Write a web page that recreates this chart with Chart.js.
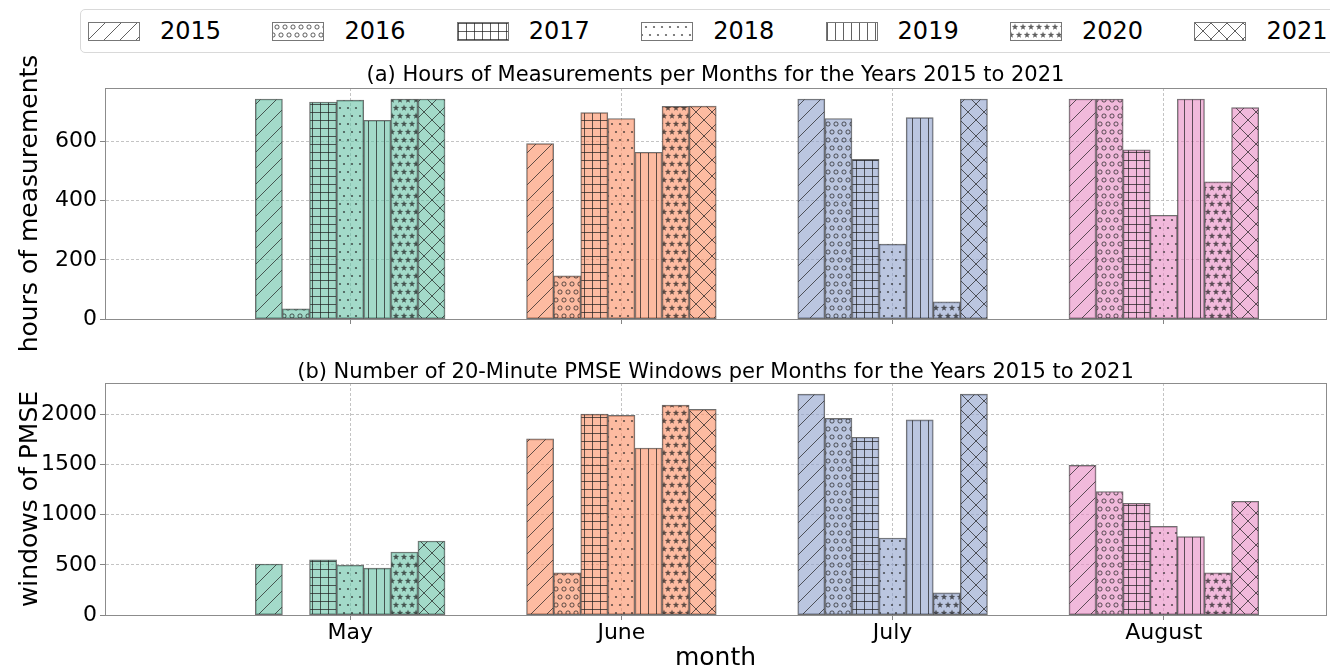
<!DOCTYPE html>
<html>
<head>
<meta charset="utf-8">
<script src="https://cdn.jsdelivr.net/npm/chart.js@4.4.1/dist/chart.umd.min.js"></script>
<style>
  body { margin: 0; background: #fff; width: 1330px; height: 668px; overflow: hidden; position: relative; font-family: "DejaVu Sans", sans-serif; }
  #legend { position: absolute; left: 80px; top: 9px; width: 1262px; height: 42px; border: 1px solid #d9d9d9; border-radius: 5px; }
  .item { position: absolute; top: 0; height: 42px; display: flex; align-items: center; }
  .item canvas { border: 1px solid #777; display: block; }
  .item span { font-size: 24px; margin-left: 20px; color: #000; }
  #c1 { position: absolute; left: 0; top: 40px; }
  #c2 { position: absolute; left: 0; top: 345px; }
</style>
</head>
<body>
<div id="legend"></div>
<canvas id="c1" width="1330" height="320"></canvas>
<canvas id="c2" width="1330" height="323"></canvas>
<script>
// categorias y series
const months = ['May', 'June', 'July', 'August'];
const years = ['2015', '2016', '2017', '2018', '2019', '2020', '2021'];
const hatches = ['/', 'o', '+', '.', '|', '*', 'x'];

// horas de medicion por mes (May, June, July, August)
const hours2015 = [744, 593, 744, 744];
const hours2016 = [34, 146, 678, 744];
const hours2017 = [734, 698, 540, 572];
const hours2018 = [740, 678, 253, 351];
const hours2019 = [672, 564, 681, 744];
const hours2020 = [744, 719, 58, 464];
const hours2021 = [744, 720, 744, 715];

// ventanas PMSE de 20 minutos por mes
const windows2015 = [508, 1753, 2200, 1490];
const windows2016 = [0, 420, 1957, 1230];
const windows2017 = [550, 2000, 1770, 1113];
const windows2018 = [497, 1987, 767, 883];
const windows2019 = [467, 1663, 1943, 780];
const windows2020 = [627, 2090, 220, 420];
const windows2021 = [737, 2047, 2200, 1133];

// marcas del eje y
const hoursTicks = [0, 200, 400, 600];
const windowsTicks = [0, 500, 1000, 1500, 2000];

const hoursByYear = [hours2015, hours2016, hours2017, hours2018, hours2019, hours2020, hours2021];
const windowsByYear = [windows2015, windows2016, windows2017, windows2018, windows2019, windows2020, windows2021];

const monthColors = ['rgba(102,194,165,0.6)', 'rgba(252,141,98,0.6)', 'rgba(141,160,203,0.6)', 'rgba(231,138,195,0.6)'];
const hatchColor = 'rgba(30,30,30,0.7)';
const edgeColor = 'rgba(50,50,50,0.7)';
const family = '"DejaVu Sans", sans-serif';

/* Función para crear el patrón de rayado */
function makeHatch(kind, fill) {
  const s = 16;
  const c = document.createElement('canvas');
  c.width = s; c.height = s;
  const g = c.getContext('2d');
  g.fillStyle = fill;
  g.fillRect(0, 0, s, s);
  g.strokeStyle = hatchColor;
  g.fillStyle = hatchColor;
  g.lineWidth = 1;
  const spots = [[4, 4], [12, 4], [0, 12], [8, 12], [16, 12]];
  if (kind === '/' || kind === 'x') {
    for (let k = -1; k <= 1; k++) {
      g.beginPath(); g.moveTo(k * s, s); g.lineTo(k * s + s, 0); g.stroke();
    }
  }
  if (kind === 'x') {
    for (let k = -1; k <= 1; k++) {
      g.beginPath(); g.moveTo(k * s, 0); g.lineTo(k * s + s, s); g.stroke();
    }
  }
  if (kind === '+' || kind === '|') {
    [0.5, 8.5].forEach(x => { g.beginPath(); g.moveTo(x, 0); g.lineTo(x, s); g.stroke(); });
  }
  if (kind === '+') {
    [0.5, 8.5].forEach(y => { g.beginPath(); g.moveTo(0, y); g.lineTo(s, y); g.stroke(); });
  }
  if (kind === 'o') {
    spots.forEach(([x, y]) => { g.beginPath(); g.arc(x, y, 2.1, 0, Math.PI * 2); g.stroke(); });
  }
  if (kind === '.') {
    spots.forEach(([x, y]) => { g.beginPath(); g.arc(x, y, 1.1, 0, Math.PI * 2); g.fill(); });
  }
  if (kind === '*') {
    spots.forEach(([x, y]) => {
      g.beginPath();
      for (let i = 0; i < 10; i++) {
        const r = i % 2 === 0 ? 3.4 : 1.4;
        const a = -Math.PI / 2 + i * Math.PI / 5;
        const px = x + r * Math.cos(a), py = y + r * Math.sin(a);
        if (i === 0) g.moveTo(px, py); else g.lineTo(px, py);
      }
      g.closePath(); g.fill();
    });
  }
  return { canvas: c, pattern: g.createPattern(c, 'repeat') };
}

/* Leyenda en HTML */
function buildLegend() {
  const box = document.getElementById('legend');
  years.forEach((yr, j) => {
    const item = document.createElement('div');
    item.className = 'item';
    item.style.left = (7 + j * 184.4) + 'px';
    const sw = document.createElement('canvas');
    sw.width = 50; sw.height = 17;
    const ctx = sw.getContext('2d');
    ctx.fillStyle = makeHatch(hatches[j], '#fff').pattern;
    ctx.fillRect(0, 0, 50, 17);
    const label = document.createElement('span');
    label.textContent = yr;
    item.appendChild(sw);
    item.appendChild(label);
    box.appendChild(item);
  });
}

// marco completo alrededor del área
const frame = {
  id: 'frame',
  afterDraw(chart) {
    const a = chart.chartArea, ctx = chart.ctx;
    ctx.save();
    ctx.strokeStyle = '#8c8c8c';
    ctx.lineWidth = 1;
    ctx.strokeRect(Math.round(a.left) + 0.5, Math.round(a.top) + 0.5, Math.round(a.right - a.left), Math.round(a.bottom - a.top));
    ctx.restore();
  }
};

/* Función para crear cada subgráfico */
function buildChart(id, byYear, yTicks, yMax, title, yLabel, isBottom) {
  const datasets = years.map((yr, j) => ({
    label: yr,
    data: byYear[j].map((v, i) => ({ x: i, y: v })),
    backgroundColor: months.map((m, i) => makeHatch(hatches[j], monthColors[i]).pattern),
    borderColor: edgeColor,
    borderWidth: 1,
    borderSkipped: false,
    barThickness: 27.1,
    grouped: true
  }));

  return new Chart(document.getElementById(id), {
    type: 'bar',
    data: { datasets: datasets },
    options: {
      responsive: false,
      animation: false,
      layout: { padding: { left: 0, right: 4, top: 0, bottom: 0 } },
      plugins: {
        legend: { display: false },
        tooltip: { enabled: false },
        title: {
          display: true,
          fullSize: false,
          text: title,
          color: '#000',
          font: { family: family, size: 21, weight: 'normal', lineHeight: 1 },
          padding: isBottom ? { top: 17, bottom: 0 } : { top: 25, bottom: 2 }
        }
      },
      scales: {
        x: {
          type: 'linear',
          min: -0.904,
          max: 3.598,
          offset: false,
          afterBuildTicks: s => { s.ticks = months.map((m, i) => ({ value: i })); },
          afterFit: s => { s.height = isBottom ? 53 : 41; },
          ticks: {
            display: isBottom,
            autoSkip: false,
            maxRotation: 0,
            padding: 0,
            color: '#000',
            font: { family: family, size: 22 },
            callback: v => months[v]
          },
          grid: { offset: false, color: '#b5b5b5', lineWidth: 0.8, tickLength: 5, tickColor: '#666', tickBorderDash: [] },
          border: { dash: [3, 2], color: '#8c8c8c' },
          title: {
            display: isBottom,
            text: 'month',
            color: '#000',
            font: { family: family, size: 25, lineHeight: 0.74 },
            padding: { top: 0, bottom: 0 }
          }
        },
        y: {
          min: 0,
          max: yMax,
          afterBuildTicks: s => { s.ticks = yTicks.map(v => ({ value: v })); },
          afterFit: s => { s.width = 105; },
          ticks: { padding: 3, color: '#000', font: { family: family, size: 22 }, callback: v => String(v) },
          grid: { color: '#b5b5b5', lineWidth: 0.8, tickLength: 5, tickColor: '#666', tickBorderDash: [] },
          border: { dash: [3, 2], color: '#8c8c8c' },
          title: {
            display: true,
            text: yLabel,
            color: '#000',
            font: { family: family, size: 25, lineHeight: 1.2 },
            padding: { top: 15, bottom: 0 }
          }
        }
      }
    },
    plugins: [frame]
  });
}

buildLegend();
buildChart('c1', hoursByYear, hoursTicks, 781.2,
  '(a) Hours of Measurements per Months for the Years 2015 to 2021', 'hours of measurements', false);
buildChart('c2', windowsByYear, windowsTicks, 2310,
  '(b) Number of 20-Minute PMSE Windows per Months for the Years 2015 to 2021', 'windows of PMSE', true);
</script>
</body>
</html>
